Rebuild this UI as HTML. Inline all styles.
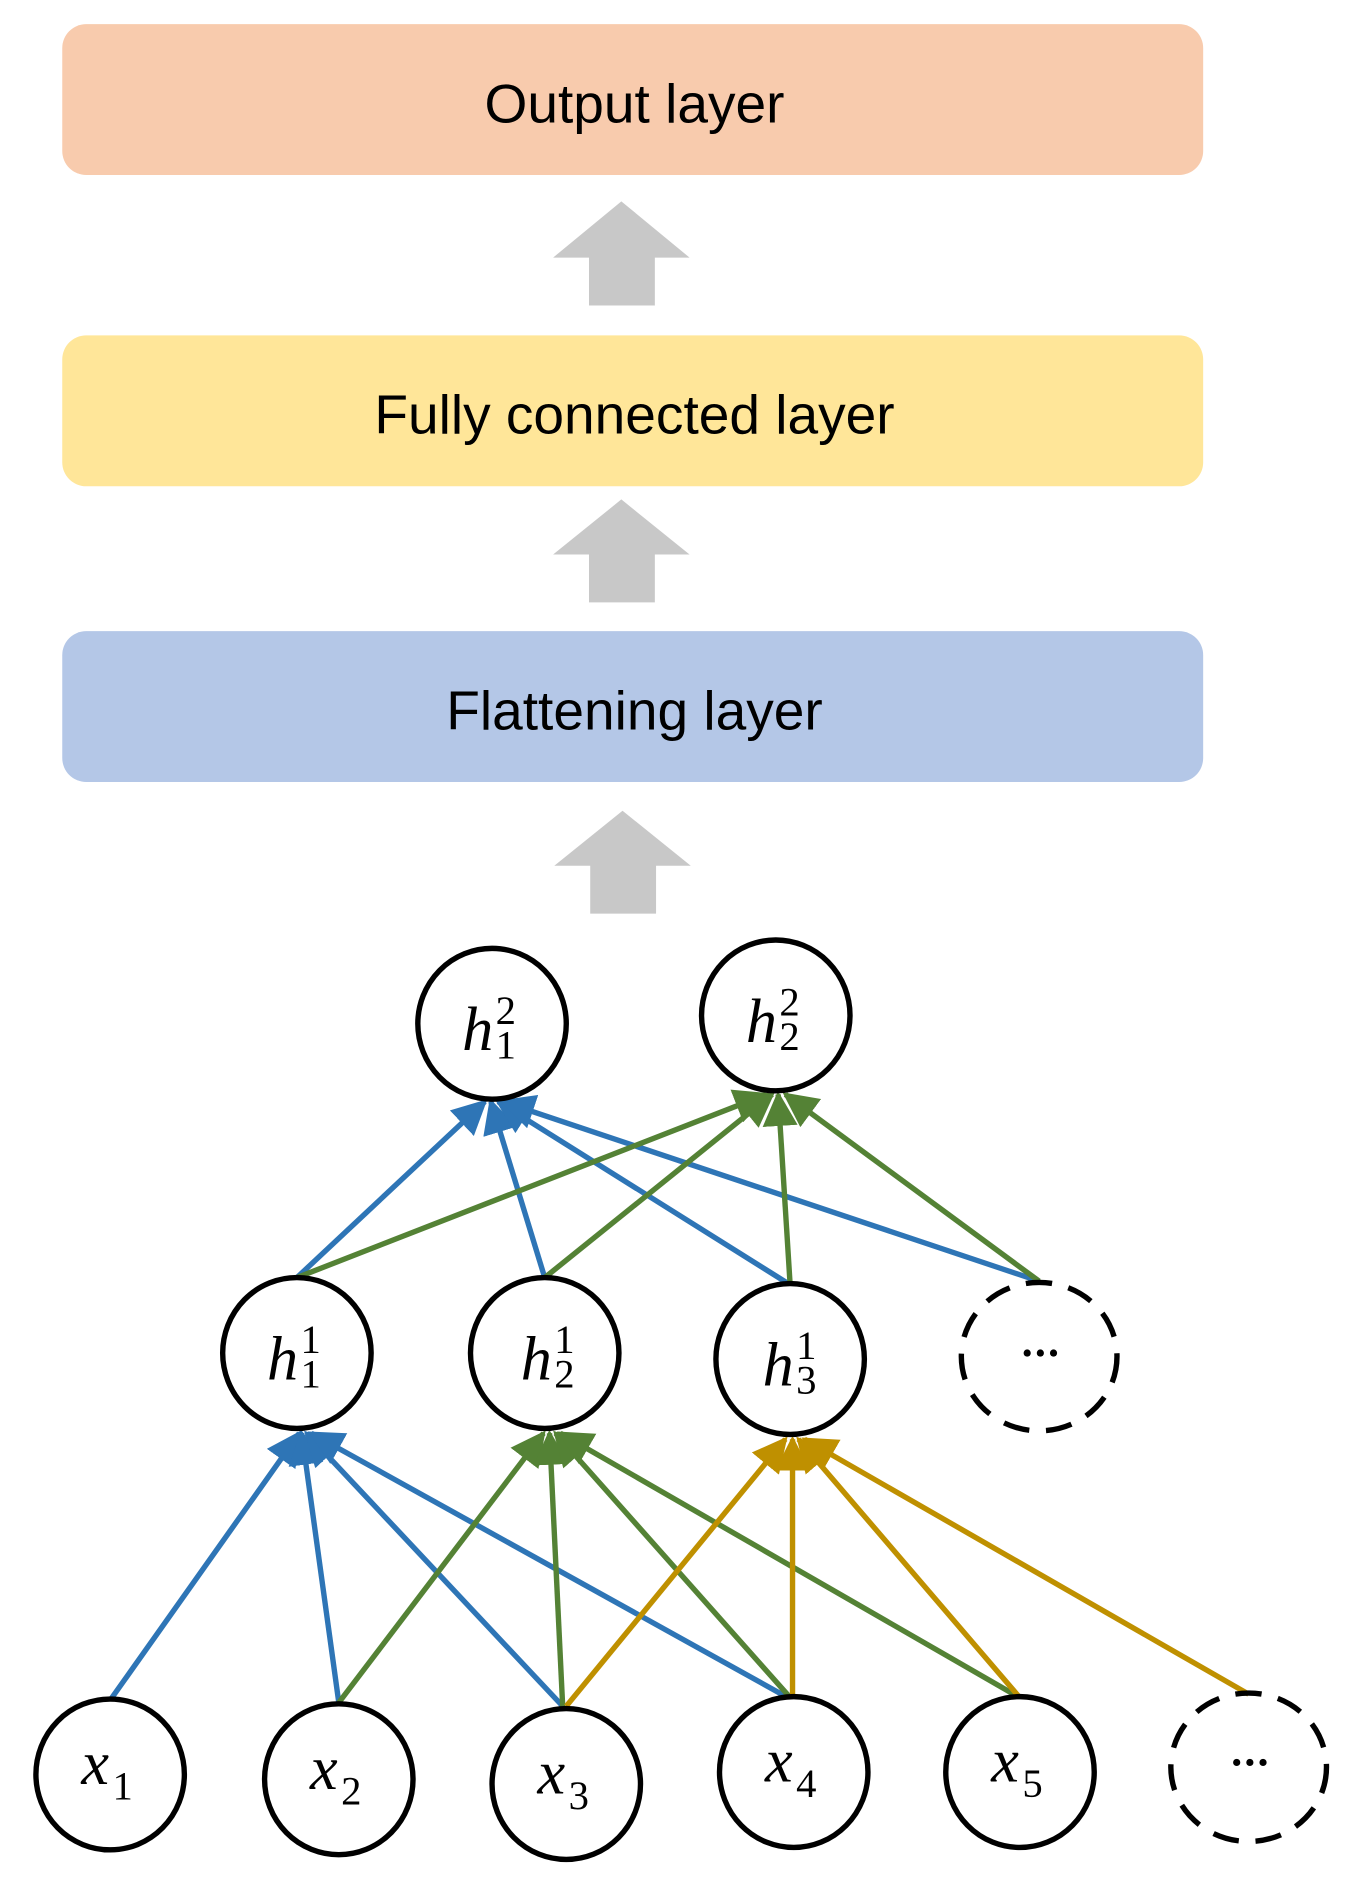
<!DOCTYPE html>
<html><head><meta charset="utf-8"><style>html,body{margin:0;padding:0;background:#fff}svg{display:block}</style></head>
<body>
<svg width="1360" height="1880" viewBox="0 0 1136 1570" xmlns="http://www.w3.org/2000/svg">
<defs>
<marker id="mb" viewBox="0 0 10 10" refX="9" refY="5" markerWidth="6.5" markerHeight="6.5" orient="auto" markerUnits="strokeWidth"><path d="M0,0L10,5L0,10z" fill="#2E75B6"/></marker>
<marker id="mg" viewBox="0 0 10 10" refX="9" refY="5" markerWidth="6.5" markerHeight="6.5" orient="auto" markerUnits="strokeWidth"><path d="M0,0L10,5L0,10z" fill="#548235"/></marker>
<marker id="my" viewBox="0 0 10 10" refX="9" refY="5" markerWidth="6.5" markerHeight="6.5" orient="auto" markerUnits="strokeWidth"><path d="M0,0L10,5L0,10z" fill="#BF9000"/></marker>
</defs>
<g font-family="Liberation Sans, DejaVu Sans, sans-serif" font-size="46" text-anchor="middle">
<rect x="52" y="20" width="953" height="126" rx="20" fill="#F8CBAD"/>
<text x="530" y="102">Output layer</text>
<rect x="52" y="280" width="953" height="126" rx="20" fill="#FFE699"/>
<text x="530" y="362">Fully connected layer</text>
<rect x="52" y="527" width="953" height="126" rx="20" fill="#B4C7E7"/>
<text x="530" y="609">Flattening layer</text>
</g>
<g fill="#C8C8C8">
<path d="M462,215L519,168L576,215L547,215L547,255L492,255L492,215z"/>
<path d="M462,463L519,417L576,463L547,463L547,503L492,503L492,463z"/>
<path d="M463,723L520,677L577,723L548,723L548,763L493,763L493,723z"/>
</g>
<g stroke-width="4.5" fill="none">
<g stroke="#2E75B6" marker-end="url(#mb)">
<line x1="92" y1="1420" x2="250" y2="1197"/>
<line x1="283" y1="1422" x2="252" y2="1197"/>
<line x1="470" y1="1425" x2="256" y2="1197"/>
<line x1="662" y1="1420" x2="260" y2="1197"/>
<line x1="248" y1="1067" x2="405" y2="920"/>
<line x1="455" y1="1067" x2="410" y2="920"/>
<line x1="660" y1="1073" x2="416" y2="920"/>
<line x1="868" y1="1070" x2="420" y2="920"/>
</g>
<g stroke="#548235" marker-end="url(#mg)">
<line x1="283" y1="1422" x2="454" y2="1197"/>
<line x1="470" y1="1425" x2="459" y2="1197"/>
<line x1="662" y1="1420" x2="464" y2="1197"/>
<line x1="852" y1="1418" x2="468" y2="1197"/>
<line x1="248" y1="1067" x2="640" y2="914"/>
<line x1="455" y1="1067" x2="645" y2="914"/>
<line x1="660" y1="1073" x2="650" y2="914"/>
<line x1="868" y1="1070" x2="656" y2="914"/>
</g>
<g stroke="#BF9000" marker-end="url(#my)">
<line x1="473" y1="1425" x2="656" y2="1202"/>
<line x1="662" y1="1420" x2="662" y2="1202"/>
<line x1="852" y1="1418" x2="667" y2="1202"/>
<line x1="1043" y1="1415" x2="672" y2="1202"/>
</g>
</g>
<g stroke="#000" stroke-width="4.5" fill="#fff">
<ellipse cx="411" cy="855" rx="62" ry="63"/>
<ellipse cx="648" cy="848" rx="62" ry="63"/>
<ellipse cx="248" cy="1130" rx="62" ry="63"/>
<ellipse cx="455" cy="1130" rx="62" ry="63"/>
<ellipse cx="660" cy="1135" rx="62" ry="63"/>
<ellipse cx="92" cy="1482" rx="62" ry="63"/>
<ellipse cx="283" cy="1486" rx="62" ry="63"/>
<ellipse cx="473" cy="1490" rx="62" ry="63"/>
<ellipse cx="663" cy="1480" rx="62" ry="63"/>
<ellipse cx="852" cy="1480" rx="62" ry="63"/>
</g>
<g stroke="#000" stroke-width="4.5" fill="none" stroke-dasharray="22,14">
<ellipse cx="868" cy="1133" rx="65" ry="62"/>
<ellipse cx="1043" cy="1476" rx="65" ry="62"/>
</g>
<g font-family="Liberation Serif, DejaVu Serif, serif" font-size="52" fill="#000">
<text x="386" y="877" font-style="italic">h</text><text x="414" y="855" font-size="34">2</text><text x="414" y="884" font-size="34">1</text>
<text x="623" y="870" font-style="italic">h</text><text x="651" y="848" font-size="34">2</text><text x="651" y="877" font-size="34">2</text>
<text x="223" y="1152" font-style="italic">h</text><text x="251" y="1130" font-size="34">1</text><text x="251" y="1159" font-size="34">1</text>
<text x="435" y="1152" font-style="italic">h</text><text x="463" y="1130" font-size="34">1</text><text x="463" y="1159" font-size="34">2</text>
<text x="637" y="1157" font-style="italic">h</text><text x="665" y="1135" font-size="34">1</text><text x="665" y="1164" font-size="34">3</text>
<text x="68" y="1490" font-style="italic">x</text><text x="94" y="1503" font-size="34">1</text>
<text x="259" y="1494" font-style="italic">x</text><text x="285" y="1507" font-size="34">2</text>
<text x="449" y="1498" font-style="italic">x</text><text x="475" y="1511" font-size="34">3</text>
<text x="639" y="1488" font-style="italic">x</text><text x="665" y="1501" font-size="34">4</text>
<text x="828" y="1488" font-style="italic">x</text><text x="854" y="1501" font-size="34">5</text>
</g>
<g fill="#000">
<circle cx="858" cy="1130" r="3"/><circle cx="869" cy="1130" r="3"/><circle cx="880" cy="1130" r="3"/>
<circle cx="1033" cy="1472" r="3"/><circle cx="1044" cy="1472" r="3"/><circle cx="1055" cy="1472" r="3"/>
</g>
</svg>
</body></html>
